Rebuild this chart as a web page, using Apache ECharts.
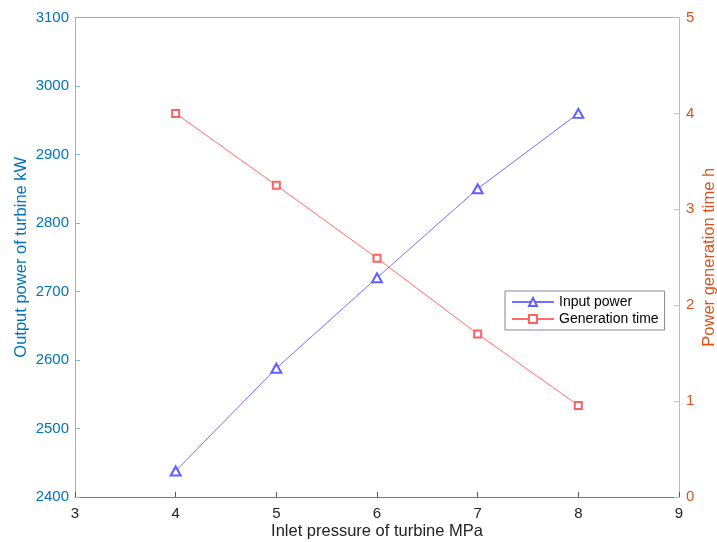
<!DOCTYPE html>
<html>
<head>
<meta charset="utf-8">
<script src="https://cdn.jsdelivr.net/npm/echarts@6/dist/echarts.min.js"></script>
<style>html,body{margin:0;padding:0;background:#fff;}#c{width:717px;height:542px;}</style>
</head>
<body>
<div id="c"></div>
<script>
const pressure = [4, 5, 6, 7, 8];
const inputPower = [2438, 2588, 2720, 2850, 2960];
const generationTime = [4.0, 3.25, 2.49, 1.70, 0.955];

const FONT = '"Liberation Sans", Arial, sans-serif';
const BLUE = '#0072BD';
const ORANGE = '#D95319';

const chart = echarts.init(document.getElementById('c'));
chart.setOption({
  animation: false,
  backgroundColor: '#fff',
  textStyle: { fontFamily: FONT },
  grid: { left: 75, right: 38, top: 17.5, bottom: 45, containLabel: false, outerBoundsMode: 'none' },
  legend: {
    orient: 'vertical',
    left: 505, top: 291,
    backgroundColor: '#fff',
    borderColor: '#888', borderWidth: 1, borderRadius: 0,
    padding: [4, 6, 4, 6],
    itemGap: 3,
    itemWidth: 42, itemHeight: 10,
    textStyle: { fontFamily: FONT, fontSize: 14, color: '#000' },
    data: ['Input power', 'Generation time']
  },
  xAxis: [{
    type: 'value', min: 3, max: 9, interval: 1,
    name: 'Inlet pressure of turbine MPa', nameLocation: 'middle', nameGap: 26, nameMoveOverlap: false,
    nameTextStyle: { fontSize: 16.5, color: '#222', fontFamily: FONT },
    axisLine: { lineStyle: { color: '#777', width: 1 } },
    axisTick: { inside: true, length: 5, lineStyle: { color: '#555' } },
    axisLabel: { fontSize: 15, color: '#222', margin: 9, fontFamily: FONT },
    splitLine: { show: false }
  }, {
    type: 'value', min: 3, max: 9, interval: 1, position: 'top',
    axisLine: { show: true, lineStyle: { color: '#aaa', width: 1 } },
    axisTick: { show: false }, axisLabel: { show: false }, splitLine: { show: false }
  }],
  yAxis: [{
    type: 'value', min: 2400, max: 3100, interval: 100, position: 'left',
    name: 'Output power of turbine kW', nameLocation: 'middle', nameGap: 45, nameMoveOverlap: false,
    nameTextStyle: { fontSize: 16.5, color: BLUE, fontFamily: FONT },
    axisLine: { show: true, lineStyle: { color: '#80b8de', width: 1 } },
    axisTick: { show: true, inside: true, length: 5, lineStyle: { color: '#80b8de' } },
    axisLabel: { fontSize: 15, color: BLUE, margin: 6, fontFamily: FONT, formatter: v => String(v) },
    splitLine: { show: false }
  }, {
    type: 'value', min: 0, max: 5, interval: 1, position: 'right',
    name: 'Power generation time h', nameLocation: 'middle', nameGap: 22, nameMoveOverlap: false,
    nameTextStyle: { fontSize: 16.5, color: ORANGE, fontFamily: FONT },
    axisLine: { show: true, lineStyle: { color: '#eeac90', width: 1 } },
    axisTick: { show: true, inside: true, length: 5, lineStyle: { color: '#eeac90' } },
    axisLabel: { fontSize: 15, color: ORANGE, margin: 7, fontFamily: FONT },
    splitLine: { show: false }
  }],
  series: [{
    name: 'Input power', type: 'line', xAxisIndex: 0, yAxisIndex: 0,
    data: pressure.map((p, i) => [p, inputPower[i]]),
    symbol: 'emptyTriangle', symbolSize: [10, 9],
    lineStyle: { color: '#7070ff', width: 1 },
    itemStyle: { color: '#6060ff', borderColor: '#6060ff', borderWidth: 0.8 }
  }, {
    name: 'Generation time', type: 'line', xAxisIndex: 0, yAxisIndex: 1,
    data: pressure.map((p, i) => [p, generationTime[i]]),
    symbol: 'emptyRect', symbolSize: 7,
    lineStyle: { color: '#ff6a6a', width: 1 },
    itemStyle: { color: '#ff6060', borderColor: '#ff6060', borderWidth: 0.8 }
  }]
});
</script>
</body>
</html>
